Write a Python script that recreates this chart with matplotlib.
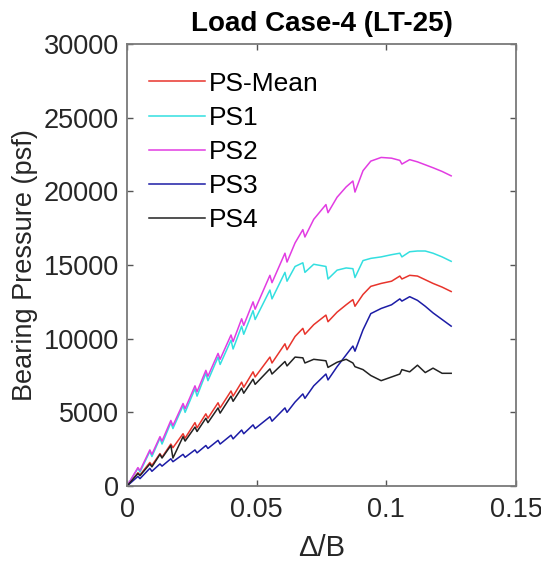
import matplotlib
matplotlib.use("Agg")
import matplotlib.pyplot as plt

plt.rcParams["font.family"] = ["Liberation Sans", "DejaVu Sans"]

# Delta/B values shared by all pressure cells
disp_ratio = [0,
              0.0042, 0.005, 0.0088, 0.0096, 0.0127, 0.0135, 0.0169, 0.0177,
              0.0216, 0.0224, 0.0262, 0.027, 0.0304, 0.0312, 0.0351, 0.0359,
              0.0401, 0.0409, 0.0442, 0.045, 0.0486, 0.0494, 0.0551, 0.0559,
              0.0609, 0.0617, 0.0648, 0.0678, 0.0686, 0.072, 0.0767, 0.0775,
              0.081, 0.0845, 0.0871, 0.0879, 0.091, 0.094, 0.098, 0.102,
              0.1052, 0.106, 0.109, 0.112, 0.115, 0.118, 0.1215, 0.125]

# bearing pressure (psf)
ps_mean = [0,
           900, 750, 1600, 1400, 2200, 1950, 2850, 2600,
           3550, 3250, 4300, 3950, 4900, 4600, 5650, 5300,
           6450, 6100, 7050, 6700, 7750, 7400, 8750, 8350,
           9650, 9250, 10150, 10700, 10300, 10950, 11600, 11150,
           11800, 12300, 12650, 12200, 13000, 13550, 13750, 13900,
           14250, 14050, 14300, 14250, 14000, 13750, 13500, 13200]

ps1 = [0,
       1200, 950, 2350, 2000, 3250, 2850, 4300, 3900,
       5450, 5000, 6600, 6100, 7650, 7150, 8750, 8250,
       9900, 9300, 10850, 10300, 11900, 11300, 13300, 12700,
       14500, 13900, 14900, 15150, 14500, 15050, 14900, 14050,
       14650, 14800, 14750, 14150, 15300, 15450, 15550, 15700,
       15800, 15550, 15900, 15950, 15950, 15800, 15550, 15250]

ps2 = [0,
       1250, 1050, 2450, 2150, 3350, 3050, 4450, 4100,
       5600, 5250, 6800, 6400, 7850, 7450, 9000, 8600,
       10250, 9800, 11350, 10900, 12500, 12000, 14300, 13800,
       15800, 15200, 16500, 17400, 16900, 18100, 19100, 18550,
       19600, 20300, 20700, 19950, 21400, 22050, 22300, 22250,
       22100, 21850, 22150, 22000, 21800, 21600, 21350, 21050]

ps3 = [0,
       650, 500, 1200, 1000, 1500, 1350, 1850, 1650,
       2150, 1950, 2450, 2250, 2750, 2550, 3100, 2850,
       3450, 3200, 3800, 3550, 4150, 3900, 4700, 4400,
       5300, 5000, 5700, 6250, 5950, 6800, 7600, 7200,
       8100, 8900, 9500, 9150, 10600, 11700, 12050, 12300,
       12700, 12550, 12850, 12600, 12200, 11750, 11300, 10850]

ps4 = [0,
       850, 700, 1500, 1300, 2150, 1900, 2750, 1900,
       3350, 3050, 4000, 3700, 4600, 4300, 5300, 4950,
       6100, 5750, 6650, 6300, 7250, 6900, 7950, 7600,
       8450, 8150, 8750, 8700, 8350, 8600, 8500, 8050,
       8400, 8600, 8350, 8100, 7900, 7500, 7150, 7400,
       7600, 7900, 7750, 8200, 7700, 8000, 7650, 7650]

labels = ["PS-Mean", "PS1", "PS2", "PS3", "PS4"]
colors = ["#e8342c", "#33dfe0", "#e23ce2", "#1c1ca6", "#222222"]

fig = plt.figure(figsize=(5.41, 5.66), dpi=100)
ax = fig.add_axes([0.2348, 0.1413, 0.719, 0.781])

for y, lab, c in zip([ps_mean, ps1, ps2, ps3, ps4], labels, colors):
    ax.plot(disp_ratio, y, color=c, lw=1.1, label=lab)

ax.set_xlim(0, 0.15)
ax.set_ylim(0, 30000)
ax.set_xticks([0, 0.05, 0.1, 0.15])
ax.set_xticklabels(["0", "0.05", "0.1", "0.15"])
ax.set_yticks([0, 5000, 10000, 15000, 20000, 25000, 30000])

for s in ax.spines.values():
    s.set_color("#7a7a7a")
    s.set_linewidth(1.3)
ax.tick_params(direction="in", length=4, width=1, colors="#555555",
               top=True, right=True, labelsize=19.5, pad=6, labelcolor="#262626")
ax.tick_params(axis="x", pad=8)

ax.set_title("Load Case-4 (LT-25)", fontsize=20, fontweight="bold", pad=9)
ax.set_xlabel("\u0394/B", fontsize=21, color="#262626", labelpad=8)
ax.set_ylabel("Bearing Pressure (psf)", fontsize=19.5, color="#262626", labelpad=4)

ax.legend(loc="upper left", bbox_to_anchor=(0, 0.988), frameon=False,
          fontsize=19, handlelength=2.1, handletextpad=0.15,
          labelspacing=0.38, borderaxespad=0.45)

fig.savefig("out.png", dpi=100)
